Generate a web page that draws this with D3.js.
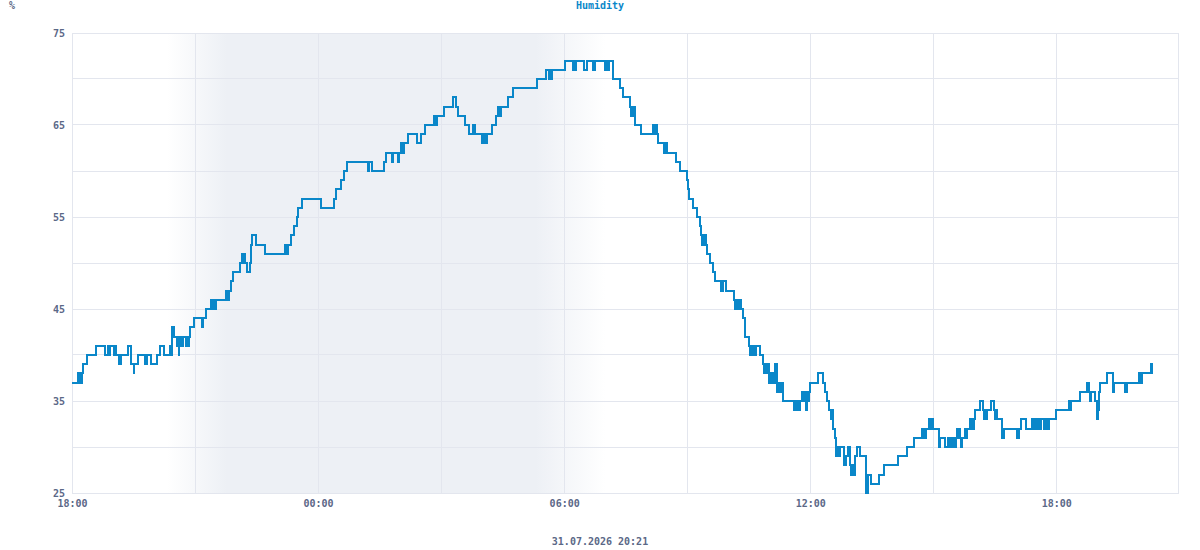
<!DOCTYPE html>
<html lang="en">
<head>
<meta charset="UTF-8">
<title>Humidity</title>
<script src="https://cdnjs.cloudflare.com/ajax/libs/d3/7.8.5/d3.min.js"></script>
<style>
body { margin: 0; background: #fff; }
svg text { font-family: "DejaVu Sans Mono", monospace; font-weight: bold; font-size: 10px; fill: #5b6887; }
.grid line { stroke: #e3e6ee; stroke-width: 1; shape-rendering: crispEdges; }
.title { fill: #0a87c9 !important; }
</style>
</head>
<body>
<div id="chart"></div>
<script>
// minutes since 30.07.2026 18:00, humidity %
var eveningReadings = [
  [0,37],[9,38],[10,37],[11,38],[12,37],[13,38],[14,37],[15,38],[16,39],[22,40],[35,41],[48,40],[53,41],[55,40],[56,41],
  [61,40],[63,41],[64,40],[69,39],[71,40],[82,41],[86,40],[87,39],[90,38],[91,39],[96,40],[107,39],[110,40],[115,39],
  [125,40],[129,41],[135,40],[143,41],[146,40],[147,43],[149,42],[153,41],[154,42],[156,40],[157,41],[160,42],[162,41],
  [163,42],[167,41],[168,42],[170,41],[171,42],[173,43],[178,44],[190,43],[191,44],[196,45],[204,46],[205,45],[206,46],
  [207,45],[208,46],[210,45],[211,46],[225,47],[226,46],[227,47],[228,46],[229,47],[232,48],[235,49],[246,50],[248,51],
  [249,50],[250,51],[251,50],[252,51],[253,50],[256,49],[260,50],[262,52],[264,53],[269,52],[282,51],[312,52],[313,51],
  [314,52],[315,51],[316,52],[321,53],[325,54],[329,55],[331,56],[337,57]
];
var nightReadings = [
  [364,56],[383,57],[386,58],[393,59],[398,60],[402,61],[433,60],[434,61],[439,60],[457,61],[460,62],[468,61],[469,62],
  [477,61],[479,62],[482,63],[483,62],[484,63],[485,62],[486,63],[492,64],[504,63],[510,64],[517,65],[529,66],[530,65],
  [531,66],[532,65],[534,66],[544,67],[557,68],[562,67],[565,66],[575,65],[581,64],[586,65],[589,64],[600,63],[601,64],
  [602,63],[603,64],[604,63],[605,64],[606,63],[607,64],[615,65],[621,66],[623,67],[624,66],[625,67],[626,66],[628,67],
  [638,68],[645,69],[680,70],[694,71],[698,70],[699,71],[700,70],[702,71]
];
var morningReadings = [
  [721,72],[733,71],[734,72],[735,71],[738,72],[749,71],[753,72],[762,71],[765,72],[780,71],[781,72],[782,71],[785,72],
  [791,71],[792,70],[801,69],[806,68],[816,67],[818,66],[819,67],[821,66],[822,67],[823,66],[824,65],[832,64],[850,65],
  [851,64],[852,65],[854,64],[855,65],[856,64],[857,63],[866,62],[867,63],[868,62],[870,63],[871,62],[884,61],[890,60],
  [899,59],[901,58],[903,57],[908,56],[914,55],[918,54],[920,53],[922,52],[923,53],[925,52],[926,53],[928,52],[929,51],
  [934,50],[938,49],[941,48],[949,47],[950,48],[952,47],[953,48],[957,47],[968,46],[970,45],[971,46],[973,45],[974,46],
  [976,45],[977,46],[978,45],[982,44],[984,43],[985,42],[990,41],[992,40],[993,41],[995,40],[997,41],[999,40],[1000,41],
  [1006,40],[1011,39],[1013,38],[1014,39],[1016,38],[1017,39],[1019,38],[1020,37],[1022,38],[1023,37],[1024,38],[1025,37],
  [1029,39],[1030,38],[1031,39],[1032,36],[1033,37],[1034,36],[1036,37],[1037,36],[1039,37],[1040,35],[1056,34],[1057,35],
  [1058,34],[1059,35],[1061,34],[1062,35],[1064,34],[1065,35],[1068,36],[1070,35],[1071,36],[1074,34],[1075,36],[1077,35],
  [1078,36]
];
var afternoonReadings = [
  [1079,37],[1092,38],[1098,37],[1102,36],[1105,35],[1108,34],[1110,33],[1111,34],[1112,33],[1113,34],[1114,32],[1116,31],
  [1117,29],[1118,30],[1119,29],[1121,30],[1122,29],[1124,30],[1129,29],[1130,28],[1131,29],[1132,28],[1133,29],[1135,30],
  [1136,29],[1137,30],[1138,28],[1139,27],[1141,28],[1142,27],[1144,28],[1145,27],[1146,29],[1148,30],[1153,29],[1162,25],
  [1164,27],[1169,26],[1181,27],[1188,28],[1209,29],[1222,30],[1232,31],[1243,32],[1244,31],[1246,32],[1247,31],[1249,32],
  [1253,33],[1254,32],[1256,33],[1257,32],[1259,33],[1260,32],[1268,31],[1269,30],[1270,31],[1277,30],[1282,31],[1283,30],
  [1285,31],[1287,30],[1289,31],[1291,30],[1293,31],[1295,32],[1296,31],[1298,32],[1299,31],[1300,30],[1302,31],[1307,32],
  [1308,31],[1309,32],[1314,33],[1315,32],[1317,33],[1319,32],[1320,33],[1321,34],[1328,35],[1333,34],[1334,33],[1336,34],
  [1337,33],[1338,34],[1345,35],[1349,34],[1350,33],[1352,34],[1353,33],[1360,31],[1363,32],[1382,31],[1385,32],[1388,33],
  [1395,32],[1404,33],[1405,32],[1407,33],[1409,32],[1411,33],[1413,32],[1415,33],[1416,32],[1417,33],[1422,32],[1423,33],
  [1425,32],[1427,33],[1428,32],[1430,33],[1440,34],[1458,35],[1459,34],[1461,35],[1475,36],[1485,37],[1488,36],[1489,35],
  [1490,36],[1497,35],[1500,33],[1501,34],[1502,35],[1503,36],[1504,37],[1514,38],[1523,36],[1525,37],[1541,36],[1543,37],
  [1561,38],[1562,37],[1563,38],[1564,37],[1566,38],[1578,39],[1580,38],[1582,38]
];

var xTickMinutes = [0, 360, 720, 1080, 1440];
var xTickLabels = ["18:00", "00:00", "06:00", "12:00", "18:00"];
var yTickValues = [25, 35, 45, 55, 65, 75];
// night shading: fade in start, full, full end, fade out end (minutes)
var nightBand = [139, 226, 678, 780];

var W = 1200, H = 550;
var plotLeft = 72, plotRight = 1178, plotTop = 33, plotBottom = 493;

var readings = eveningReadings.concat(nightReadings, morningReadings, afternoonReadings);

var x = d3.scaleLinear().domain([0, 1618]).range([plotLeft, plotRight]);
var y = d3.scaleLinear().domain([25, 75]).range([plotBottom, plotTop]);
var px = function(v){ return Math.floor(v) + 0.5; };

var svg = d3.select('#chart').append('svg')
  .attr('width', W).attr('height', H);

// night gradient
var grad = svg.append('defs').append('linearGradient')
  .attr('id', 'night')
  .attr('gradientUnits', 'userSpaceOnUse')
  .attr('x1', x(nightBand[0])).attr('x2', x(nightBand[3]))
  .attr('y1', 0).attr('y2', 0);
var span = nightBand[3] - nightBand[0];
[[0, 0], [(nightBand[1] - nightBand[0]) / span, 1], [(nightBand[2] - nightBand[0]) / span, 1], [1, 0]].forEach(function(s){
  grad.append('stop').attr('offset', s[0]).attr('stop-color', '#edf0f5').attr('stop-opacity', s[1]);
});

svg.append('rect')
  .attr('x', x(nightBand[0])).attr('width', x(nightBand[3]) - x(nightBand[0]))
  .attr('y', plotTop).attr('height', plotBottom - plotTop)
  .attr('fill', 'url(#night)');

// grid
var grid = svg.append('g').attr('class', 'grid');
grid.selectAll('.h').data(d3.range(25, 76, 5)).enter().append('line')
  .attr('x1', plotLeft).attr('x2', plotRight + 1)
  .attr('y1', function(d){ return px(y(d)); }).attr('y2', function(d){ return px(y(d)); });
grid.selectAll('.v').data(d3.range(0, 1619, 180).concat([1618])).enter().append('line')
  .attr('y1', plotTop).attr('y2', plotBottom + 1)
  .attr('x1', function(d){ return px(x(d)); }).attr('x2', function(d){ return px(x(d)); });

// axes
var yAxis = svg.append('g')
  .attr('transform', 'translate(' + plotLeft + ',0)')
  .call(d3.axisLeft(y).tickValues(yTickValues).tickSize(0).tickPadding(7));
yAxis.select('.domain').remove();

var xAxis = svg.append('g')
  .attr('transform', 'translate(0,' + plotBottom + ')')
  .call(d3.axisBottom(x).tickValues(xTickMinutes).tickSize(0).tickPadding(7)
    .tickFormat(function(d, i){ return xTickLabels[i]; }));
xAxis.select('.domain').remove();
svg.selectAll('.tick text').attr('fill', '#5b6887').style('font-size', '10px')
  .style('font-family', '"DejaVu Sans Mono", monospace').style('font-weight', 'bold');

// line
var line = d3.line()
  .x(function(d){ return x(d[0]); })
  .y(function(d){ return y(d[1]); })
  .curve(d3.curveStepAfter);

svg.append('path')
  .datum(readings)
  .attr('d', line)
  .attr('fill', 'none')
  .attr('stroke', '#0a87c9')
  .attr('stroke-width', 2)
  .attr('shape-rendering', 'crispEdges');

// labels
svg.append('text').attr('class', 'title')
  .attr('x', 600).attr('y', 9).attr('text-anchor', 'middle').text('Humidity');
svg.append('text').attr('x', 12).attr('y', 9).attr('text-anchor', 'middle').text('%');
svg.append('text').attr('x', 600).attr('y', 545).attr('text-anchor', 'middle').text('31.07.2026 20:21');
</script>
</body>
</html>
